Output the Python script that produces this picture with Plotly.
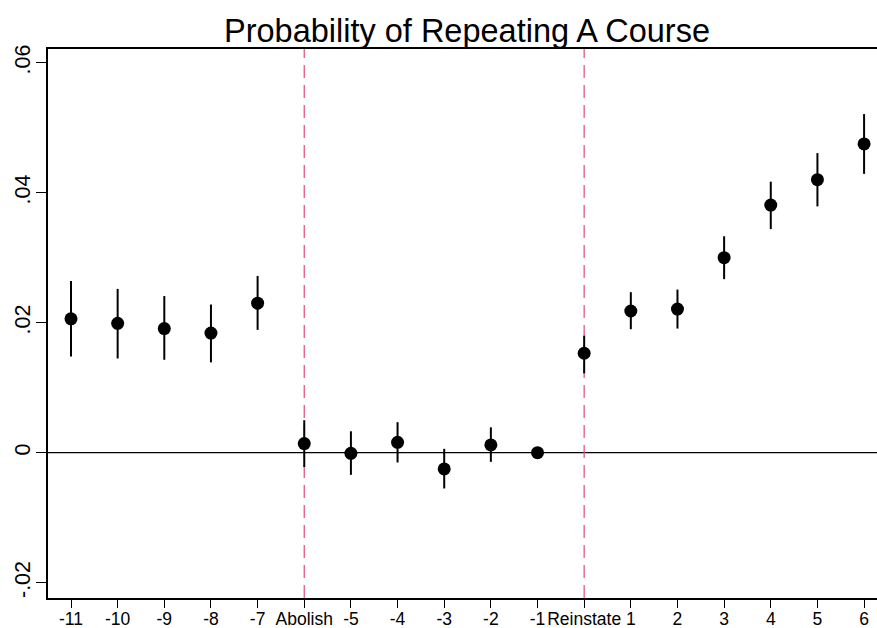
import plotly.graph_objects as go

categories = ["-11", "-10", "-9", "-8", "-7", "Abolish", "-5", "-4", "-3", "-2",
              "-1", "Reinstate", "1", "2", "3", "4", "5", "6"]
estimate = [0.0206, 0.0199, 0.0191, 0.0184, 0.0230, 0.0014, -0.0001, 0.0016, -0.0025, 0.0012,
            0.0, 0.0153, 0.0218, 0.0221, 0.0300, 0.0381, 0.0420, 0.0475]
ci_upper = [0.0264, 0.0252, 0.0241, 0.0228, 0.0272, 0.0050, 0.0033, 0.0047, 0.0006, 0.0039,
            0.0, 0.0180, 0.0247, 0.0251, 0.0333, 0.0417, 0.0461, 0.0521]
ci_lower = [0.0148, 0.0145, 0.0143, 0.0139, 0.0189, -0.0022, -0.0034, -0.0015, -0.0055, -0.0014,
            0.0, 0.0122, 0.0190, 0.0191, 0.0267, 0.0344, 0.0379, 0.0429]
event_lines = ["Abolish", "Reinstate"]
ytick_vals = [-0.02, 0, 0.02, 0.04, 0.06]
ytick_text = ["-.02", "0", ".02", ".04", ".06"]

err_plus = [u - e for u, e in zip(ci_upper, estimate)]
err_minus = [e - l for e, l in zip(estimate, ci_lower)]

FONT = "Liberation Sans, Arial, Helvetica, sans-serif"

fig = go.Figure()

fig.add_trace(go.Scatter(
    x=categories, y=estimate, mode="markers",
    marker=dict(color="black", size=13),
    error_y=dict(type="data", symmetric=False, array=err_plus, arrayminus=err_minus,
                 color="black", thickness=2, width=0),
    showlegend=False,
))

shapes = []
shapes.append(dict(type="line", xref="paper", yref="y", x0=0, x1=1, y0=0, y1=0,
                   line=dict(color="black", width=1.3), layer="below"))
for ev in event_lines:
    idx = categories.index(ev)
    shapes.append(dict(type="line", xref="x", yref="paper", x0=idx, x1=idx, y0=0, y1=1,
                       line=dict(color="#e4587f", width=1.3, dash="13px,7px"), layer="below"))

fig.update_layout(
    width=877, height=628,
    margin=dict(l=48, r=0, t=49, b=30),
    paper_bgcolor="white", plot_bgcolor="white",
    font=dict(family=FONT, color="black", size=17),
    title=dict(text="Probability of Repeating A Course", x=467 / 877, xref="container",
               y=1 - 31 / 628, yref="container", yanchor="middle", xanchor="center",
               font=dict(size=32.5, family=FONT, color="black")),
    shapes=shapes,
    xaxis=dict(type="category", categoryorder="array", categoryarray=categories,
               range=[-0.493, 17.277], showgrid=False, zeroline=False, automargin=False,
               showline=True, linecolor="black", linewidth=1.5, mirror=True,
               ticks="outside", ticklen=8, tickwidth=1.3, tickcolor="black",
               ticklabelstandoff=-4,
               tickfont=dict(size=17.5, family=FONT, color="black"), tickangle=0),
    yaxis=dict(range=[-0.02235, 0.06211], showgrid=False, zeroline=False, automargin=False,
               showline=True, linecolor="black", linewidth=1.5,
               ticks="outside", ticklen=10, tickwidth=1.3, tickcolor="black",
               tickvals=ytick_vals, ticktext=ytick_text, tickangle=-90,
               ticklabelstandoff=-2,
               tickfont=dict(size=21.5, family=FONT, color="black")),
)

fig.write_html("out.html")
